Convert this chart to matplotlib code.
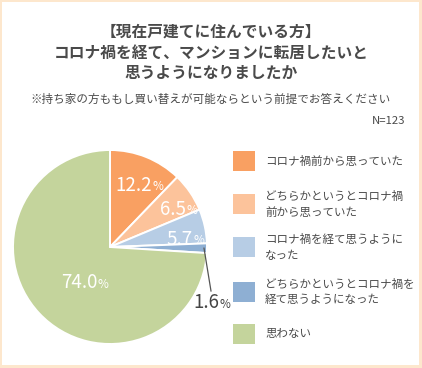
import numpy as np
import matplotlib; matplotlib.use("Agg")
import matplotlib.pyplot as plt
from matplotlib.patches import Rectangle

plt.rcParams["font.family"] = ["Noto Sans CJK JP", "DejaVu Sans"]

W, H = 422, 368
INK = "#4a4a4a"; BORDER = "#fde7cd"

title = ["【現在戸建てに住んでいる方】", "コロナ禍を経て、マンションに転居したいと", "思うようになりましたか"]
note = "※持ち家の方ももし買い替えが可能ならという前提でお答えください"
n_label = "N=123"
labels = ["コロナ禍前から思っていた", "どちらかというとコロナ禍\n前から思っていた",
          "コロナ禍を経て思うように\nなった", "どちらかというとコロナ禍を\n経て思うようになった", "思わない"]
values = [12.2, 6.5, 5.7, 1.6, 74.0]
colors = ["#f9a062", "#fcc39b", "#b7cde5", "#8eafd3", "#c4d49c"]

fig = plt.figure(figsize=(W/100, H/100), dpi=100)
fig.patch.set_facecolor(BORDER)
ax = fig.add_axes([0, 0, 1, 1])
Y = lambda y: H - y  # image px -> data

ax.add_patch(Rectangle((2, 3), W-5, H-5, facecolor="white", edgecolor="none", zorder=0))

cx, cy, R = 110, Y(247), 97
wedges, _ = ax.pie(values, colors=colors, startangle=90, counterclock=False, center=(cx, cy),
                   radius=R, wedgeprops={"edgecolor": "white", "linewidth": 1.4}, frame=True)
ax.set_xlim(0, W); ax.set_ylim(0, H); ax.set_aspect("equal"); ax.axis("off")

for i, t in enumerate(title):
    ax.text(211, Y(32 + i*20.5), t, ha="center", va="center", fontsize=11.3, color=INK, fontweight="bold")
ax.text(211, Y(99), note, ha="center", va="center", fontsize=8.35, color=INK)
ax.text(405, Y(121), n_label, ha="right", va="center", fontsize=8.2, color=INK)

def pct(x, y, v, col):
    # anchor = right edge of the number, then a smaller "%"
    ax.text(x, y, f"{v:.1f}", ha="right", va="center", fontsize=13.5, color=col)
    ax.text(x + 0.5, y - 1.5, "%", ha="left", va="center", fontsize=8.5, color=col)

# label placement relative to each wedge's mid angle
rfrac = [0.77, 0.88, 0.86, None, 0.39]
dang = [-12, -8, -7, 0, 27]
for i, (w, v) in enumerate(zip(wedges, values)):
    if rfrac[i] is None:
        continue
    a = np.deg2rad((w.theta1 + w.theta2) / 2 + dang[i])
    pct(cx + R*rfrac[i]*np.cos(a), cy + R*rfrac[i]*np.sin(a), v, "white")

# small slice: leader line + outside label
w = wedges[3]
a = np.deg2rad((w.theta1 + w.theta2) / 2)
x0 = cx + (R - 3)*np.cos(a); y0 = cy + (R - 3)*np.sin(a)
ax.plot([x0, 211], [y0, Y(291)], color="#555555", lw=0.9)
pct(219, Y(303), values[3], "#444444")

# legend
ly = [161, 204, 247, 292, 334]
for yy, c, lab in zip(ly, colors, labels):
    ax.add_patch(Rectangle((233, Y(yy) - 10), 22, 20, facecolor=c, edgecolor="none"))
    ax.text(265, Y(yy), lab, ha="left", va="center", fontsize=8.3, color=INK, linespacing=1.3)

fig.savefig("out.png", dpi=100, facecolor=BORDER)
